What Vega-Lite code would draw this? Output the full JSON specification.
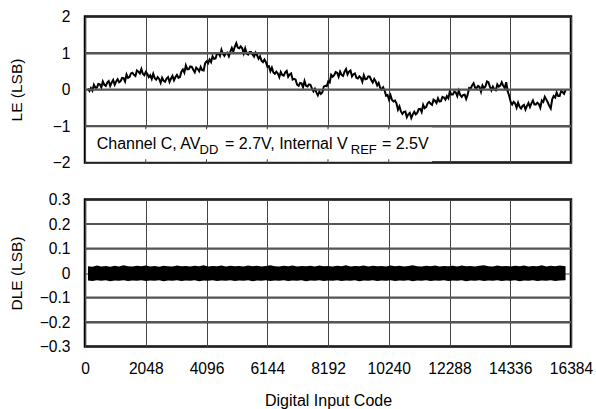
{
  "$schema": "https://vega.github.io/schema/vega-lite/v6.json",
  "padding": {"left": 7, "top": 7.5, "right": 5, "bottom": 0},
  "spacing": 18,
  "config": {
    "font": "Liberation Sans",
    "view": {"stroke": "black", "strokeWidth": 2.5},
    "axis": {
      "labelFont": "Liberation Sans", "labelFontSize": 15.6, "labelColor": "black",
      "titleFont": "Liberation Sans", "titleFontSize": 15.5, "titleFontWeight": "normal", "titleColor": "black",
      "domain": false, "ticks": false, "grid": true, "gridColor": "#444", "gridWidth": 1, "gridOpacity": 1
    }
  },
  "datasets": {
    "le": [
      {"code":100,"le":0.03},{"code":150,"le":-0.04},{"code":200,"le":0.04},{"code":250,"le":-0.03},{"code":300,"le":0.13},{"code":350,"le":0.05},{"code":400,"le":0.05},{"code":450,"le":0.15},{"code":500,"le":0.14},{"code":550,"le":0.06},
      {"code":600,"le":0.22},{"code":650,"le":0.13},{"code":700,"le":0.10},{"code":750,"le":0.19},{"code":800,"le":0.23},{"code":850,"le":0.10},{"code":900,"le":0.19},{"code":950,"le":0.26},{"code":1000,"le":0.13},{"code":1050,"le":0.22},
      {"code":1100,"le":0.28},{"code":1150,"le":0.20},{"code":1200,"le":0.23},{"code":1250,"le":0.32},{"code":1300,"le":0.31},{"code":1350,"le":0.22},{"code":1400,"le":0.41},{"code":1450,"le":0.32},{"code":1500,"le":0.34},{"code":1550,"le":0.44},
      {"code":1600,"le":0.46},{"code":1650,"le":0.40},{"code":1700,"le":0.37},{"code":1750,"le":0.52},{"code":1800,"le":0.49},{"code":1850,"le":0.44},{"code":1900,"le":0.56},{"code":1950,"le":0.43},{"code":2000,"le":0.39},{"code":2050,"le":0.48},
      {"code":2100,"le":0.43},{"code":2150,"le":0.34},{"code":2200,"le":0.39},{"code":2250,"le":0.29},{"code":2300,"le":0.43},{"code":2350,"le":0.31},{"code":2400,"le":0.27},{"code":2450,"le":0.34},{"code":2500,"le":0.29},{"code":2550,"le":0.18},
      {"code":2600,"le":0.32},{"code":2650,"le":0.24},{"code":2700,"le":0.21},{"code":2750,"le":0.30},{"code":2800,"le":0.34},{"code":2850,"le":0.21},{"code":2900,"le":0.30},{"code":2950,"le":0.37},{"code":3000,"le":0.25},{"code":3050,"le":0.34},
      {"code":3100,"le":0.40},{"code":3150,"le":0.32},{"code":3200,"le":0.34},{"code":3250,"le":0.49},{"code":3300,"le":0.55},{"code":3350,"le":0.46},{"code":3400,"le":0.66},{"code":3450,"le":0.55},{"code":3500,"le":0.56},{"code":3550,"le":0.63},
      {"code":3600,"le":0.62},{"code":3650,"le":0.54},{"code":3700,"le":0.47},{"code":3750,"le":0.60},{"code":3800,"le":0.56},{"code":3850,"le":0.50},{"code":3900,"le":0.62},{"code":3950,"le":0.53},{"code":4000,"le":0.52},{"code":4050,"le":0.72},
      {"code":4100,"le":0.77},{"code":4150,"le":0.72},{"code":4200,"le":0.82},{"code":4250,"le":0.75},{"code":4300,"le":0.91},{"code":4350,"le":0.84},{"code":4400,"le":0.85},{"code":4450,"le":0.98},{"code":4500,"le":1.00},{"code":4550,"le":0.92},
      {"code":4600,"le":1.09},{"code":4650,"le":0.98},{"code":4700,"le":0.92},{"code":4750,"le":0.99},{"code":4800,"le":1.01},{"code":4850,"le":0.91},{"code":4900,"le":1.04},{"code":4950,"le":1.14},{"code":5000,"le":1.04},{"code":5050,"le":1.17},
      {"code":5100,"le":1.27},{"code":5150,"le":1.15},{"code":5200,"le":1.13},{"code":5250,"le":1.18},{"code":5300,"le":1.13},{"code":5350,"le":0.99},{"code":5400,"le":1.13},{"code":5450,"le":0.99},{"code":5500,"le":0.96},{"code":5550,"le":1.03},
      {"code":5600,"le":1.03},{"code":5650,"le":0.96},{"code":5700,"le":0.90},{"code":5750,"le":1.01},{"code":5800,"le":0.94},{"code":5850,"le":0.84},{"code":5900,"le":0.91},{"code":5950,"le":0.79},{"code":6000,"le":0.75},{"code":6050,"le":0.82},
      {"code":6100,"le":0.75},{"code":6150,"le":0.62},{"code":6200,"le":0.64},{"code":6250,"le":0.50},{"code":6300,"le":0.60},{"code":6350,"le":0.47},{"code":6400,"le":0.43},{"code":6450,"le":0.49},{"code":6500,"le":0.44},{"code":6550,"le":0.34},
      {"code":6600,"le":0.48},{"code":6650,"le":0.40},{"code":6700,"le":0.38},{"code":6750,"le":0.47},{"code":6800,"le":0.51},{"code":6850,"le":0.35},{"code":6900,"le":0.41},{"code":6950,"le":0.44},{"code":7000,"le":0.27},{"code":7050,"le":0.29},
      {"code":7100,"le":0.27},{"code":7150,"le":0.13},{"code":7200,"le":0.10},{"code":7250,"le":0.18},{"code":7300,"le":0.17},{"code":7350,"le":0.06},{"code":7400,"le":0.23},{"code":7450,"le":0.10},{"code":7500,"le":0.08},{"code":7550,"le":0.14},
      {"code":7600,"le":0.13},{"code":7650,"le":0.03},{"code":7700,"le":-0.05},{"code":7750,"le":0.02},{"code":7800,"le":-0.08},{"code":7850,"le":-0.16},{"code":7900,"le":-0.06},{"code":7950,"le":-0.12},{"code":8000,"le":-0.08},{"code":8050,"le":0.08},
      {"code":8100,"le":0.10},{"code":8150,"le":0.09},{"code":8200,"le":0.22},{"code":8250,"le":0.19},{"code":8300,"le":0.40},{"code":8350,"le":0.35},{"code":8400,"le":0.39},{"code":8450,"le":0.48},{"code":8500,"le":0.46},{"code":8550,"le":0.35},
      {"code":8600,"le":0.49},{"code":8650,"le":0.40},{"code":8700,"le":0.37},{"code":8750,"le":0.49},{"code":8800,"le":0.56},{"code":8850,"le":0.41},{"code":8900,"le":0.49},{"code":8950,"le":0.52},{"code":9000,"le":0.36},{"code":9050,"le":0.42},
      {"code":9100,"le":0.44},{"code":9150,"le":0.32},{"code":9200,"le":0.30},{"code":9250,"le":0.36},{"code":9300,"le":0.32},{"code":9350,"le":0.21},{"code":9400,"le":0.39},{"code":9450,"le":0.28},{"code":9500,"le":0.29},{"code":9550,"le":0.36},
      {"code":9600,"le":0.35},{"code":9650,"le":0.26},{"code":9700,"le":0.19},{"code":9750,"le":0.29},{"code":9800,"le":0.22},{"code":9850,"le":0.11},{"code":9900,"le":0.18},{"code":9950,"le":0.05},{"code":10000,"le":0.00},{"code":10050,"le":0.06},
      {"code":10100,"le":-0.03},{"code":10150,"le":-0.17},{"code":10200,"le":-0.15},{"code":10250,"le":-0.28},{"code":10300,"le":-0.16},{"code":10350,"le":-0.29},{"code":10400,"le":-0.33},{"code":10450,"le":-0.30},{"code":10500,"le":-0.38},{"code":10550,"le":-0.55},
      {"code":10600,"le":-0.46},{"code":10650,"le":-0.60},{"code":10700,"le":-0.67},{"code":10750,"le":-0.61},{"code":10800,"le":-0.60},{"code":10850,"le":-0.76},{"code":10900,"le":-0.68},{"code":10950,"le":-0.64},{"code":11000,"le":-0.78},{"code":11050,"le":-0.68},
      {"code":11100,"le":-0.61},{"code":11150,"le":-0.68},{"code":11200,"le":-0.64},{"code":11250,"le":-0.54},{"code":11300,"le":-0.53},{"code":11350,"le":-0.62},{"code":11400,"le":-0.42},{"code":11450,"le":-0.51},{"code":11500,"le":-0.48},{"code":11550,"le":-0.38},
      {"code":11600,"le":-0.34},{"code":11650,"le":-0.39},{"code":11700,"le":-0.42},{"code":11750,"le":-0.28},{"code":11800,"le":-0.31},{"code":11850,"le":-0.37},{"code":11900,"le":-0.24},{"code":11950,"le":-0.33},{"code":12000,"le":-0.32},{"code":12050,"le":-0.20},
      {"code":12100,"le":-0.22},{"code":12150,"le":-0.28},{"code":12200,"le":-0.18},{"code":12250,"le":-0.24},{"code":12300,"le":-0.05},{"code":12350,"le":-0.14},{"code":12400,"le":-0.14},{"code":12450,"le":-0.06},{"code":12500,"le":-0.08},{"code":12550,"le":-0.18},
      {"code":12600,"le":-0.03},{"code":12650,"le":-0.15},{"code":12700,"le":-0.20},{"code":12750,"le":-0.15},{"code":12800,"le":-0.14},{"code":12850,"le":-0.26},{"code":12900,"le":-0.14},{"code":12950,"le":0.04},{"code":13000,"le":0.02},{"code":13050,"le":0.11},
      {"code":13100,"le":0.17},{"code":13150,"le":0.05},{"code":13200,"le":0.04},{"code":13250,"le":0.10},{"code":13300,"le":0.07},{"code":13350,"le":-0.06},{"code":13400,"le":0.11},{"code":13450,"le":0.04},{"code":13500,"le":0.08},{"code":13550,"le":0.22},
      {"code":13600,"le":0.20},{"code":13650,"le":0.08},{"code":13700,"le":-0.02},{"code":13750,"le":0.08},{"code":13800,"le":0.00},{"code":13850,"le":-0.02},{"code":13900,"le":0.14},{"code":13950,"le":0.08},{"code":14000,"le":0.11},{"code":14050,"le":0.20},
      {"code":14100,"le":0.10},{"code":14150,"le":0.04},{"code":14200,"le":0.20},{"code":14250,"le":-0.05},{"code":14300,"le":-0.17},{"code":14350,"le":-0.34},{"code":14400,"le":-0.41},{"code":14450,"le":-0.34},{"code":14500,"le":-0.38},{"code":14550,"le":-0.50},
      {"code":14600,"le":-0.36},{"code":14650,"le":-0.47},{"code":14700,"le":-0.52},{"code":14750,"le":-0.45},{"code":14800,"le":-0.42},{"code":14850,"le":-0.55},{"code":14900,"le":-0.45},{"code":14950,"le":-0.37},{"code":15000,"le":-0.48},{"code":15050,"le":-0.38},
      {"code":15100,"le":-0.30},{"code":15150,"le":-0.41},{"code":15200,"le":-0.41},{"code":15250,"le":-0.36},{"code":15300,"le":-0.40},{"code":15350,"le":-0.50},{"code":15400,"le":-0.30},{"code":15450,"le":-0.34},{"code":15500,"le":-0.20},{"code":15550,"le":-0.27},
      {"code":15600,"le":-0.35},{"code":15650,"le":-0.45},{"code":15700,"le":-0.52},{"code":15750,"le":-0.27},{"code":15800,"le":-0.18},{"code":15850,"le":-0.22},{"code":15900,"le":-0.08},{"code":15950,"le":-0.18},{"code":16000,"le":-0.18},{"code":16050,"le":-0.05},
      {"code":16100,"le":-0.07},{"code":16150,"le":-0.12},{"code":16200,"le":-0.02}
    ],
    "dle": [
      {"code":100,"hi":0.028,"lo":-0.031},{"code":250,"hi":0.026,"lo":-0.033},{"code":400,"hi":0.031,"lo":-0.030},{"code":550,"hi":0.027,"lo":-0.032},{"code":700,"hi":0.029,"lo":-0.030},
      {"code":850,"hi":0.026,"lo":-0.034},{"code":1000,"hi":0.030,"lo":-0.031},{"code":1150,"hi":0.027,"lo":-0.032},{"code":1300,"hi":0.032,"lo":-0.030},{"code":1450,"hi":0.028,"lo":-0.033},
      {"code":1600,"hi":0.027,"lo":-0.031},{"code":1750,"hi":0.030,"lo":-0.032},{"code":1900,"hi":0.028,"lo":-0.030},{"code":2050,"hi":0.031,"lo":-0.033},{"code":2200,"hi":0.027,"lo":-0.031},
      {"code":2350,"hi":0.029,"lo":-0.032},{"code":2500,"hi":0.026,"lo":-0.030},{"code":2650,"hi":0.030,"lo":-0.034},{"code":2800,"hi":0.028,"lo":-0.031},{"code":2950,"hi":0.027,"lo":-0.032},
      {"code":3100,"hi":0.031,"lo":-0.030},{"code":3250,"hi":0.028,"lo":-0.033},{"code":3400,"hi":0.029,"lo":-0.031},{"code":3550,"hi":0.027,"lo":-0.032},{"code":3700,"hi":0.030,"lo":-0.030},
      {"code":3850,"hi":0.028,"lo":-0.034},{"code":4000,"hi":0.032,"lo":-0.031},{"code":4150,"hi":0.027,"lo":-0.032},{"code":4300,"hi":0.029,"lo":-0.030},{"code":4450,"hi":0.028,"lo":-0.033},
      {"code":4600,"hi":0.031,"lo":-0.031},{"code":4750,"hi":0.027,"lo":-0.032},{"code":4900,"hi":0.030,"lo":-0.030},{"code":5050,"hi":0.028,"lo":-0.033},{"code":5200,"hi":0.029,"lo":-0.031},
      {"code":5350,"hi":0.027,"lo":-0.032},{"code":5500,"hi":0.031,"lo":-0.030},{"code":5650,"hi":0.028,"lo":-0.034},{"code":5800,"hi":0.030,"lo":-0.031},{"code":5950,"hi":0.027,"lo":-0.032},
      {"code":6100,"hi":0.029,"lo":-0.030},{"code":6250,"hi":0.032,"lo":-0.033},{"code":6400,"hi":0.028,"lo":-0.031},{"code":6550,"hi":0.027,"lo":-0.032},{"code":6700,"hi":0.030,"lo":-0.030},
      {"code":6850,"hi":0.028,"lo":-0.033},{"code":7000,"hi":0.031,"lo":-0.031},{"code":7150,"hi":0.027,"lo":-0.032},{"code":7300,"hi":0.029,"lo":-0.030},{"code":7450,"hi":0.028,"lo":-0.034},
      {"code":7600,"hi":0.030,"lo":-0.031},{"code":7750,"hi":0.027,"lo":-0.032},{"code":7900,"hi":0.031,"lo":-0.030},{"code":8050,"hi":0.028,"lo":-0.033},{"code":8200,"hi":0.029,"lo":-0.031},
      {"code":8350,"hi":0.027,"lo":-0.032},{"code":8500,"hi":0.030,"lo":-0.030},{"code":8650,"hi":0.028,"lo":-0.033},{"code":8800,"hi":0.032,"lo":-0.031},{"code":8950,"hi":0.027,"lo":-0.032},
      {"code":9100,"hi":0.029,"lo":-0.030},{"code":9250,"hi":0.028,"lo":-0.034},{"code":9400,"hi":0.031,"lo":-0.031},{"code":9550,"hi":0.027,"lo":-0.032},{"code":9700,"hi":0.030,"lo":-0.030},
      {"code":9850,"hi":0.028,"lo":-0.033},{"code":10000,"hi":0.029,"lo":-0.031},{"code":10150,"hi":0.027,"lo":-0.032},{"code":10300,"hi":0.031,"lo":-0.030},{"code":10450,"hi":0.028,"lo":-0.033},
      {"code":10600,"hi":0.030,"lo":-0.031},{"code":10750,"hi":0.027,"lo":-0.032},{"code":10900,"hi":0.029,"lo":-0.030},{"code":11050,"hi":0.032,"lo":-0.034},{"code":11200,"hi":0.028,"lo":-0.031},
      {"code":11350,"hi":0.027,"lo":-0.032},{"code":11500,"hi":0.030,"lo":-0.030},{"code":11650,"hi":0.028,"lo":-0.033},{"code":11800,"hi":0.031,"lo":-0.031},{"code":11950,"hi":0.027,"lo":-0.032},
      {"code":12100,"hi":0.029,"lo":-0.030},{"code":12250,"hi":0.028,"lo":-0.033},{"code":12400,"hi":0.030,"lo":-0.031},{"code":12550,"hi":0.027,"lo":-0.032},{"code":12700,"hi":0.031,"lo":-0.030},
      {"code":12850,"hi":0.028,"lo":-0.034},{"code":13000,"hi":0.029,"lo":-0.031},{"code":13150,"hi":0.027,"lo":-0.032},{"code":13300,"hi":0.030,"lo":-0.030},{"code":13450,"hi":0.032,"lo":-0.033},
      {"code":13600,"hi":0.028,"lo":-0.031},{"code":13750,"hi":0.027,"lo":-0.032},{"code":13900,"hi":0.031,"lo":-0.030},{"code":14050,"hi":0.028,"lo":-0.033},{"code":14200,"hi":0.029,"lo":-0.031},
      {"code":14350,"hi":0.027,"lo":-0.032},{"code":14500,"hi":0.030,"lo":-0.030},{"code":14650,"hi":0.028,"lo":-0.034},{"code":14800,"hi":0.031,"lo":-0.031},{"code":14950,"hi":0.027,"lo":-0.032},
      {"code":15100,"hi":0.029,"lo":-0.030},{"code":15250,"hi":0.028,"lo":-0.033},{"code":15400,"hi":0.032,"lo":-0.031},{"code":15550,"hi":0.027,"lo":-0.032},{"code":15700,"hi":0.030,"lo":-0.030},
      {"code":15850,"hi":0.028,"lo":-0.033},{"code":16000,"hi":0.031,"lo":-0.031},{"code":16200,"hi":0.028,"lo":-0.030}
    ],
    "ticks": [{"g":2048},{"g":4096},{"g":6144},{"g":8192},{"g":10240}]
  },
  "vconcat": [
    {
      "width": 486,
      "height": 146,
      "layer": [
        {
          "data": {"name": "le"},
          "mark": {"type": "line", "color": "black", "strokeWidth": 2},
          "encoding": {
            "x": {"field": "code", "type": "quantitative", "scale": {"domain": [0, 16384], "nice": false, "zero": false},
                  "axis": {"values": [0,2048,4096,6144,8192,10240,12288,14336,16384], "labels": false, "title": null, "grid": true}},
            "y": {"field": "le", "type": "quantitative", "scale": {"domain": [-2, 2], "nice": false, "zero": false},
                  "axis": {"values": [-2,-1,0,1,2], "title": "LE (LSB)", "titleX": -61, "labelPadding": 15, "format": "d", "labelOverlap": false, "grid": true}}
          }
        },
        {
          "data": {"values": [{}]},
          "mark": {"type": "rule", "color": "#555", "strokeWidth": 2},
          "encoding": {
            "x": {"datum": 0, "axis": {"values": [0,2048,4096,6144,8192,10240,12288,14336,16384], "labels": false, "title": null, "grid": true}},
            "x2": {"datum": 16384},
            "y": {"datum": 1, "axis": {"values": [-2,-1,0,1,2], "title": "LE (LSB)", "titleX": -61, "labelPadding": 15, "format": "d", "labelOverlap": false, "grid": true}}
          }
        },
        {
          "data": {"values": [{}]},
          "mark": {"type": "rule", "color": "#555", "strokeWidth": 2},
          "encoding": {
            "x": {"datum": 0, "axis": {"values": [0,2048,4096,6144,8192,10240,12288,14336,16384], "labels": false, "title": null, "grid": true}},
            "x2": {"datum": 16384},
            "y": {"datum": 0, "axis": {"values": [-2,-1,0,1,2], "title": "LE (LSB)", "titleX": -61, "labelPadding": 15, "format": "d", "labelOverlap": false, "grid": true}}
          }
        },
        {
          "data": {"values": [{}]},
          "mark": {"type": "rect", "color": "white"},
          "encoding": {
            "x": {"datum": 40, "axis": {"values": [0,2048,4096,6144,8192,10240,12288,14336,16384], "labels": false, "title": null, "grid": true}},
            "x2": {"datum": 11700},
            "y": {"datum": -1.98, "axis": {"values": [-2,-1,0,1,2], "title": "LE (LSB)", "titleX": -61, "labelPadding": 15, "format": "d", "labelOverlap": false, "grid": true}},
            "y2": {"datum": -1.04}
          }
        },
        {
          "data": {"values": [{}]},
          "mark": {"type": "rule", "color": "#555", "strokeWidth": 2},
          "encoding": {
            "x": {"datum": 0, "axis": {"values": [0,2048,4096,6144,8192,10240,12288,14336,16384], "labels": false, "title": null, "grid": true}},
            "x2": {"datum": 16384},
            "y": {"datum": -1, "axis": {"values": [-2,-1,0,1,2], "title": "LE (LSB)", "titleX": -61, "labelPadding": 15, "format": "d", "labelOverlap": false, "grid": true}}
          }
        },
        {
          "data": {"name": "ticks"},
          "mark": {"type": "rule", "color": "#444", "strokeWidth": 1},
          "encoding": {
            "x": {"field": "g", "type": "quantitative", "axis": {"values": [0,2048,4096,6144,8192,10240,12288,14336,16384], "labels": false, "title": null, "grid": true}},
            "y": {"datum": -1, "axis": {"values": [-2,-1,0,1,2], "title": "LE (LSB)", "titleX": -61, "labelPadding": 15, "format": "d", "labelOverlap": false, "grid": true}},
            "y2": {"datum": -1.09}
          }
        },
        {
          "data": {"name": "ticks"},
          "mark": {"type": "rule", "color": "#444", "strokeWidth": 1},
          "encoding": {
            "x": {"field": "g", "type": "quantitative", "axis": {"values": [0,2048,4096,6144,8192,10240,12288,14336,16384], "labels": false, "title": null, "grid": true}},
            "y": {"datum": -2, "axis": {"values": [-2,-1,0,1,2], "title": "LE (LSB)", "titleX": -61, "labelPadding": 15, "format": "d", "labelOverlap": false, "grid": true}},
            "y2": {"datum": -1.91}
          }
        },
        {
          "data": {"values": [{"t": "Channel C, AV", "px": 394}, {"t": "= 2.7V, Internal V", "px": 4720}, {"t": "= 2.5V", "px": 10010}]},
          "mark": {"type": "text", "align": "left", "baseline": "alphabetic", "fontSize": 16, "color": "black"},
          "encoding": {
            "text": {"field": "t"},
            "x": {"field": "px", "type": "quantitative", "axis": {"values": [0,2048,4096,6144,8192,10240,12288,14336,16384], "labels": false, "title": null, "grid": true}},
            "y": {"datum": -1.625, "axis": {"values": [-2,-1,0,1,2], "title": "LE (LSB)", "titleX": -61, "labelPadding": 15, "format": "d", "labelOverlap": false, "grid": true}}
          }
        },
        {
          "data": {"values": [{"t": "DD", "px": 3860}, {"t": "REF", "px": 8960}]},
          "mark": {"type": "text", "align": "left", "baseline": "alphabetic", "fontSize": 13, "dy": 5, "color": "black"},
          "encoding": {
            "text": {"field": "t"},
            "x": {"field": "px", "type": "quantitative", "axis": {"values": [0,2048,4096,6144,8192,10240,12288,14336,16384], "labels": false, "title": null, "grid": true}},
            "y": {"datum": -1.625, "axis": {"values": [-2,-1,0,1,2], "title": "LE (LSB)", "titleX": -61, "labelPadding": 15, "format": "d", "labelOverlap": false, "grid": true}}
          }
        }
      ]
    },
    {
      "width": 486,
      "height": 147,
      "layer": [
        {
          "data": {"name": "dle"},
          "mark": {"type": "area", "color": "black", "opacity": 1},
          "encoding": {
            "x": {"field": "code", "type": "quantitative", "scale": {"domain": [0, 16384], "nice": false, "zero": false},
                  "axis": {"values": [0,2048,4096,6144,8192,10240,12288,14336,16384], "title": "Digital Input Code", "titleFontSize": 16, "labelPadding": 15, "titlePadding": 15, "format": "d", "labelFlush": false, "labelOverlap": false, "grid": true}},
            "y": {"field": "hi", "type": "quantitative", "scale": {"domain": [-0.3, 0.3], "nice": false, "zero": false},
                  "axis": {"values": [-0.3,-0.2,-0.1,0,0.1,0.2,0.3], "title": "DLE (LSB)", "titleX": -61, "labelPadding": 15, "format": ".1~f", "labelOverlap": false, "grid": true}},
            "y2": {"field": "lo"}
          }
        },
        {
          "data": {"values": [{}]},
          "mark": {"type": "rule", "color": "#555", "strokeWidth": 2},
          "encoding": {
            "x": {"datum": 0, "axis": {"values": [0,2048,4096,6144,8192,10240,12288,14336,16384], "title": "Digital Input Code", "titleFontSize": 16, "labelPadding": 15, "titlePadding": 15, "format": "d", "labelFlush": false, "labelOverlap": false, "grid": true}},
            "x2": {"datum": 16384},
            "y": {"datum": 0.2, "axis": {"values": [-0.3,-0.2,-0.1,0,0.1,0.2,0.3], "title": "DLE (LSB)", "titleX": -61, "labelPadding": 15, "format": ".1~f", "labelOverlap": false, "grid": true}}
          }
        },
        {
          "data": {"values": [{}]},
          "mark": {"type": "rule", "color": "#555", "strokeWidth": 2},
          "encoding": {
            "x": {"datum": 0, "axis": {"values": [0,2048,4096,6144,8192,10240,12288,14336,16384], "title": "Digital Input Code", "titleFontSize": 16, "labelPadding": 15, "titlePadding": 15, "format": "d", "labelFlush": false, "labelOverlap": false, "grid": true}},
            "x2": {"datum": 16384},
            "y": {"datum": 0.1, "axis": {"values": [-0.3,-0.2,-0.1,0,0.1,0.2,0.3], "title": "DLE (LSB)", "titleX": -61, "labelPadding": 15, "format": ".1~f", "labelOverlap": false, "grid": true}}
          }
        },
        {
          "data": {"values": [{}]},
          "mark": {"type": "rule", "color": "#555", "strokeWidth": 2},
          "encoding": {
            "x": {"datum": 0, "axis": {"values": [0,2048,4096,6144,8192,10240,12288,14336,16384], "title": "Digital Input Code", "titleFontSize": 16, "labelPadding": 15, "titlePadding": 15, "format": "d", "labelFlush": false, "labelOverlap": false, "grid": true}},
            "x2": {"datum": 16384},
            "y": {"datum": -0.1, "axis": {"values": [-0.3,-0.2,-0.1,0,0.1,0.2,0.3], "title": "DLE (LSB)", "titleX": -61, "labelPadding": 15, "format": ".1~f", "labelOverlap": false, "grid": true}}
          }
        },
        {
          "data": {"values": [{}]},
          "mark": {"type": "rule", "color": "#555", "strokeWidth": 2},
          "encoding": {
            "x": {"datum": 0, "axis": {"values": [0,2048,4096,6144,8192,10240,12288,14336,16384], "title": "Digital Input Code", "titleFontSize": 16, "labelPadding": 15, "titlePadding": 15, "format": "d", "labelFlush": false, "labelOverlap": false, "grid": true}},
            "x2": {"datum": 16384},
            "y": {"datum": -0.2, "axis": {"values": [-0.3,-0.2,-0.1,0,0.1,0.2,0.3], "title": "DLE (LSB)", "titleX": -61, "labelPadding": 15, "format": ".1~f", "labelOverlap": false, "grid": true}}
          }
        }
      ]
    }
  ]
}
